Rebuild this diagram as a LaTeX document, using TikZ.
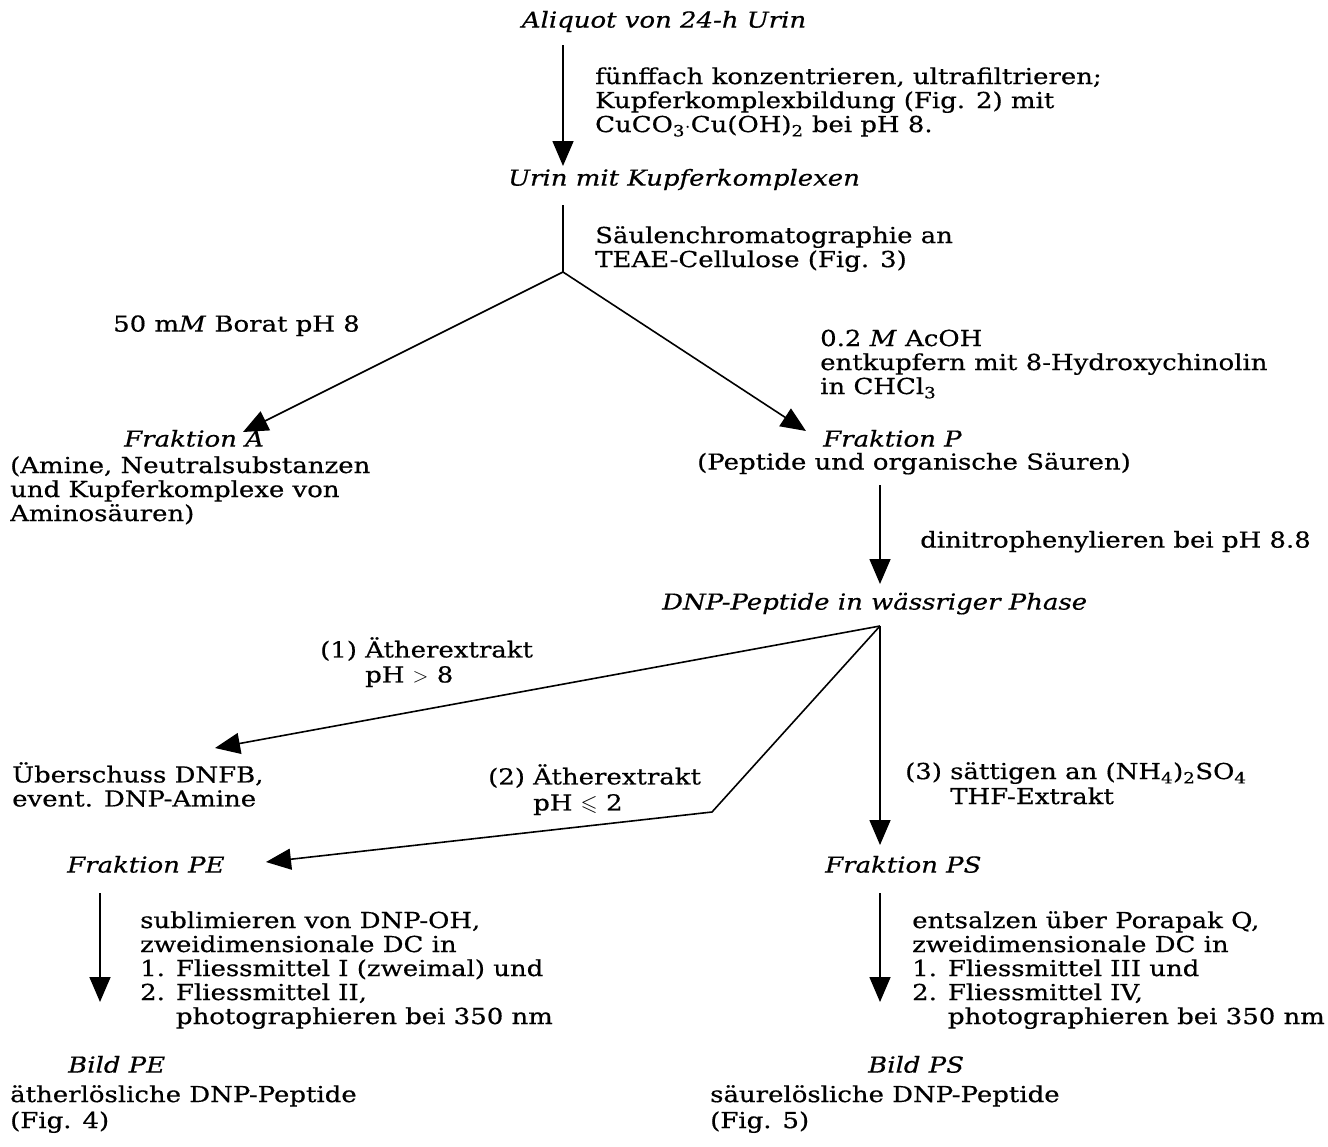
\documentclass[tikz,border=0pt]{standalone}
\usepackage{amssymb}
\usepackage{fontspec}
\setmainfont{DejaVu Serif}[FakeStretch=1.18,FakeBold=0.5]
\usetikzlibrary{arrows.meta}
\newcommand\fsz{\fontsize{22}{24}\selectfont}
\begin{document}
\begin{tikzpicture}[x=1pt,y=-1pt,
  every node/.style={inner sep=0pt,font=\fsz},
  it/.style={font=\fsz\itshape},
  txt/.style={anchor=north west,align=left},
  one/.style={anchor=mid west},
  con/.style={line width=1.6pt},
  arr/.style={con,-{Triangle[length=25pt,width=21pt]}}]
\useasboundingbox[fill=white] (0,0) rectangle (1328,1146);
% nodes
\node[it,anchor=mid] (aliq) at (664,25) {Aliquot von 24-h Urin};
\node[txt] (l1) at (595,67) {\strut fünffach konzentrieren, ultrafiltrieren;\\ Kupferkomplexbildung (Fig. 2) mit\\ CuCO\textsubscript{3}$\cdot$Cu(OH)\textsubscript{2} bei pH 8.};
\node[it,one] (urin) at (508,183) {Urin mit Kupferkomplexen};
\node[txt] (l2) at (595,226) {\strut Säulenchromatographie an\\ TEAE-Cellulose (Fig. 3)};
\node[one] (borat) at (113,329) {50 m\textit{M} Borat pH 8};
\node[txt] (l3) at (820,329) {\strut 0.2 \textit{M} AcOH\\ entkupfern mit 8-Hydroxychinolin\\ in CHCl\textsubscript{3}};
\node[it,one] (fA) at (124,444) {Fraktion A};
\node[txt] (fAd) at (10,456) {\strut (Amine, Neutralsubstanzen\\ und Kupferkomplexe von\\ Aminosäuren)};
\node[it,one] (fP) at (823,444) {Fraktion P};
\node[one] (pep) at (697,467) {(Peptide und organische Säuren)};
\node[one] (dinit) at (920,545) {dinitrophenylieren bei pH 8.8};
\node[it,one] (dnp) at (662,607) {DNP-Peptide in wässriger Phase};
\node[txt] (e1) at (320,637) {\strut (1) Ätherextrakt\\[1pt] \phantom{(1) }pH $>$ 8};
\node[txt] (ueb) at (12,762) {\strut Überschuss DNFB,\\ event. DNP-Amine};
\node[txt] (e2) at (488,764) {\strut (2) Ätherextrakt\\[2pt] \phantom{(2) }pH $\leqslant$ 2};
\node[txt] (e3) at (905,762) {\strut (3) sättigen an (NH\textsubscript{4})\textsubscript{2}SO\textsubscript{4}\\[1pt] \phantom{(3) }THF-Extrakt};
\node[it,one] (fPE) at (67,870) {Fraktion PE};
\node[it,one] (fPS) at (825,870) {Fraktion PS};
\node[txt] (pe) at (140,911) {\strut sublimieren von DNP-OH,\\ zweidimensionale DC in\\ 1. Fliessmittel I (zweimal) und\\ 2. Fliessmittel II,\\ \phantom{2. }photographieren bei 350 nm};
\node[txt] (ps) at (912,911) {\strut entsalzen über Porapak Q,\\ zweidimensionale DC in\\ 1. Fliessmittel III und\\ 2. Fliessmittel IV,\\ \phantom{2. }photographieren bei 350 nm};
\node[it,one] (bPE) at (68,1070) {Bild PE};
\node[txt] (bPEd) at (10,1085) {\strut ätherlösliche DNP-Peptide\\[2pt] (Fig. 4)};
\node[it,one] (bPS) at (868,1070) {Bild PS};
\node[txt] (bPSd) at (710,1085) {\strut säurelösliche DNP-Peptide\\[2pt] (Fig. 5)};
% connector points
\coordinate (a1s) at (563,45);
\coordinate (a1e) at (563,166);
\coordinate (u1) at (563,205);
\coordinate (br1) at (563,272);
\coordinate (tA) at (243,432);
\coordinate (tP) at (806,431);
\coordinate (p1) at (880,485);
\coordinate (p1e) at (880,584);
\coordinate (fan) at (880,626);
\coordinate (tU) at (215,748);
\coordinate (kink) at (712,812);
\coordinate (tPE) at (266,862);
\coordinate (tPS) at (880,845);
\coordinate (pe1) at (100,893);
\coordinate (pe1e) at (100,1002);
\coordinate (ps1) at (880,893);
\coordinate (ps1e) at (880,1002);
% connectors
\draw[arr] (a1s) -- (a1e);
\draw[con] (u1) -- (br1);
\draw[arr] (br1) -- (tA);
\draw[arr] (br1) -- (tP);
\draw[arr] (p1) -- (p1e);
\draw[arr] (fan) -- (tU);
\draw[arr] (fan) -- (kink) -- (tPE);
\draw[arr] (fan) -- (tPS);
\draw[arr] (pe1) -- (pe1e);
\draw[arr] (ps1) -- (ps1e);
\end{tikzpicture}
\end{document}
